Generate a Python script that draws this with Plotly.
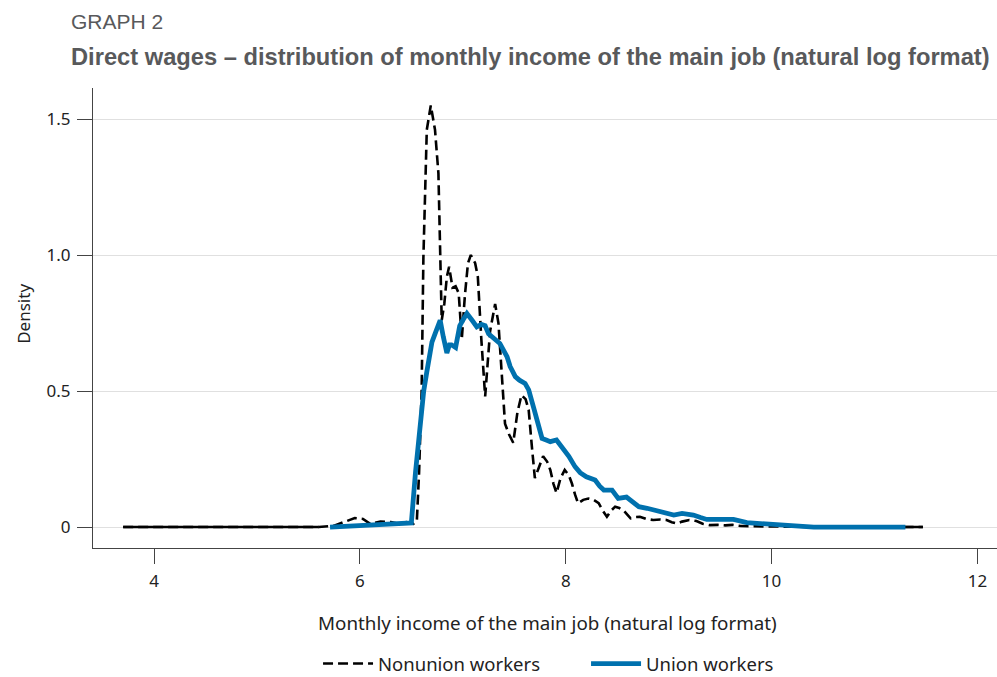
import plotly.graph_objects as go

# Kernel density of log monthly income, main job
nonunion_x = [3.70, 5.60, 5.75, 5.85, 5.95, 6.03, 6.10, 6.20, 6.30, 6.38, 6.45, 6.52,
              6.553, 6.575, 6.60, 6.617, 6.65, 6.689, 6.73, 6.763, 6.78, 6.795, 6.82,
              6.845, 6.867, 6.90, 6.93, 6.96, 6.99, 7.02, 7.05, 7.078, 7.12, 7.146,
              7.18, 7.217, 7.265, 7.314, 7.346, 7.394, 7.41, 7.45, 7.49, 7.53, 7.57,
              7.61, 7.64, 7.67, 7.70, 7.74, 7.78, 7.82, 7.85, 7.88, 7.91, 7.95, 7.99,
              8.03, 8.06, 8.09, 8.12, 8.17, 8.22, 8.27, 8.32, 8.36, 8.40, 8.44, 8.48,
              8.52, 8.56, 8.60, 8.63, 8.68, 8.72, 8.78, 8.85, 8.92, 8.98, 9.03, 9.08,
              9.13, 9.20, 9.27, 9.33, 9.40, 9.48, 9.55, 9.62, 9.70, 9.80, 9.95, 10.2,
              10.6, 11.47]
nonunion_y = [0.0, 0.0, 0.005, 0.02, 0.033, 0.03, 0.012, 0.02, 0.018, 0.012, 0.018, 0.012,
              0.02, 0.2, 0.50, 0.99, 1.46, 1.55, 1.46, 1.30, 0.99, 0.76, 0.82,
              0.92, 0.957, 0.88, 0.885, 0.86, 0.69, 0.85, 0.97, 1.00, 0.97, 0.92,
              0.69, 0.48, 0.72, 0.82, 0.75, 0.50, 0.38, 0.34, 0.31, 0.42, 0.485,
              0.47, 0.43, 0.30, 0.18, 0.22, 0.26, 0.24, 0.21, 0.16, 0.125, 0.18, 0.21,
              0.19, 0.16, 0.12, 0.087, 0.10, 0.105, 0.10, 0.088, 0.06, 0.038, 0.06, 0.075,
              0.07, 0.062, 0.045, 0.032, 0.037, 0.038, 0.03, 0.026, 0.028, 0.026, 0.018, 0.013,
              0.02, 0.026, 0.022, 0.012, 0.007, 0.008, 0.006, 0.008, 0.004, 0.003, 0.002, 0.001,
              0.0, 0.0]

union_x = [5.71, 5.90, 6.10, 6.30, 6.45, 6.50, 6.54, 6.585, 6.62, 6.65, 6.70, 6.74,
           6.78, 6.81, 6.845, 6.87, 6.89, 6.93, 6.97, 7.00, 7.04, 7.09, 7.136, 7.18,
           7.217, 7.25, 7.28, 7.32, 7.36, 7.43, 7.46, 7.51, 7.55, 7.605, 7.64, 7.686,
           7.72, 7.77, 7.81, 7.85, 7.91, 7.96, 8.03, 8.09, 8.14, 8.20, 8.285, 8.33,
           8.37, 8.45, 8.51, 8.59, 8.65, 8.71, 8.79, 8.87, 8.95, 9.05, 9.13, 9.24,
           9.31, 9.37, 9.50, 9.63, 9.76, 9.95, 10.18, 10.41, 11.30]
union_y = [0.0, 0.003, 0.006, 0.008, 0.01, 0.015, 0.2, 0.38, 0.50, 0.57, 0.68, 0.72,
           0.76, 0.70, 0.64, 0.67, 0.67, 0.66, 0.74, 0.76, 0.785, 0.76, 0.736, 0.745,
           0.74, 0.71, 0.70, 0.69, 0.675, 0.626, 0.59, 0.553, 0.54, 0.528, 0.504, 0.442,
           0.40, 0.326, 0.32, 0.314, 0.32, 0.295, 0.26, 0.222, 0.20, 0.185, 0.173, 0.15,
           0.136, 0.136, 0.105, 0.11, 0.09, 0.075, 0.069, 0.062, 0.056, 0.044, 0.05, 0.044,
           0.035, 0.028, 0.028, 0.028, 0.016, 0.011, 0.004, 0.0, 0.0]

x_ticks = [4, 6, 8, 10, 12]
y_ticks = [0, 0.5, 1.0, 1.5]
y_tick_text = ["0", "0.5", "1.0", "1.5"]

BLUE = "#0071AE"
GREY_TITLE = "#58595B"
TXT = "#222222"
AXIS = "#444444"
LBL_FONT = "Noto Sans, Open Sans, sans-serif"
TITLE_FONT = "Liberation Sans, Arial, sans-serif"

fig = go.Figure()

# flat stretches at the ends are drawn solid (dense points hide the dash gaps)
lo = [(x, y) for x, y in zip(nonunion_x, nonunion_y) if x <= 5.62]
hi = [(x, y) for x, y in zip(nonunion_x, nonunion_y) if x >= 10.6]
for seg in (lo, hi):
    fig.add_trace(go.Scatter(x=[p[0] for p in seg], y=[p[1] for p in seg], mode="lines",
                             line=dict(color="black", width=2.6), showlegend=False,
                             hoverinfo="skip"))

fig.add_trace(go.Scatter(x=nonunion_x, y=nonunion_y, mode="lines", name="Nonunion workers",
                         line=dict(color="black", width=2.6, dash="10px,5px")))
fig.add_trace(go.Scatter(x=union_x, y=union_y, mode="lines", name="Union workers",
                         line=dict(color=BLUE, width=4.8)))

fig.update_layout(
    width=997, height=677,
    margin=dict(l=93, r=0, t=88, b=129),
    paper_bgcolor="white", plot_bgcolor="white",
    font=dict(family=LBL_FONT, size=17, color=TXT),
    legend=dict(orientation="h", xref="container", yref="container",
                x=0.319, y=0.0192, xanchor="left", yanchor="middle",
                font=dict(size=18.5, color=TXT, family=LBL_FONT), itemwidth=50,
                entrywidth=203, entrywidthmode="pixels", traceorder="normal"),
    xaxis=dict(range=[3.407, 12.19], tickmode="array", tickvals=x_ticks,
               showgrid=False, zeroline=False, showline=True, linecolor=AXIS,
               linewidth=1, ticks="outside", ticklen=15, tickcolor=AXIS,
               ticklabelstandoff=3, tickfont=dict(size=17, color=TXT)),
    yaxis=dict(range=[-0.077, 1.614], tickmode="array", tickvals=y_ticks,
               ticktext=y_tick_text, showgrid=True, gridcolor="#E0E0E0", gridwidth=1,
               zeroline=False, showline=True, linecolor=AXIS, linewidth=1,
               ticks="outside", ticklen=15, tickcolor=AXIS, ticklabelstandoff=3,
               tickfont=dict(size=17, color=TXT)),
    annotations=[
        dict(text="GRAPH 2", xref="paper", yref="paper", x=-0.0265, y=1.1435,
             xanchor="left", yanchor="middle", showarrow=False,
             font=dict(family=TITLE_FONT, size=21, color=GREY_TITLE)),
        dict(text="<b>Direct wages – distribution of monthly income of the main job (natural log format)</b>",
             xref="paper", yref="paper", x=-0.0265, y=1.067, xanchor="left", yanchor="middle",
             showarrow=False, font=dict(family=TITLE_FONT, size=23.7, color=GREY_TITLE)),
        dict(text="Monthly income of the main job (natural log format)", xref="paper",
             yref="paper", x=0.503, y=-0.163, xanchor="center", yanchor="middle",
             showarrow=False, font=dict(size=18.8, color=TXT)),
        dict(text="Density", xref="paper", yref="paper", x=-0.077, y=0.51,
             xanchor="center", yanchor="middle", textangle=-90, showarrow=False,
             font=dict(size=17, color=TXT)),
    ],
)

fig.write_html("out.html")
